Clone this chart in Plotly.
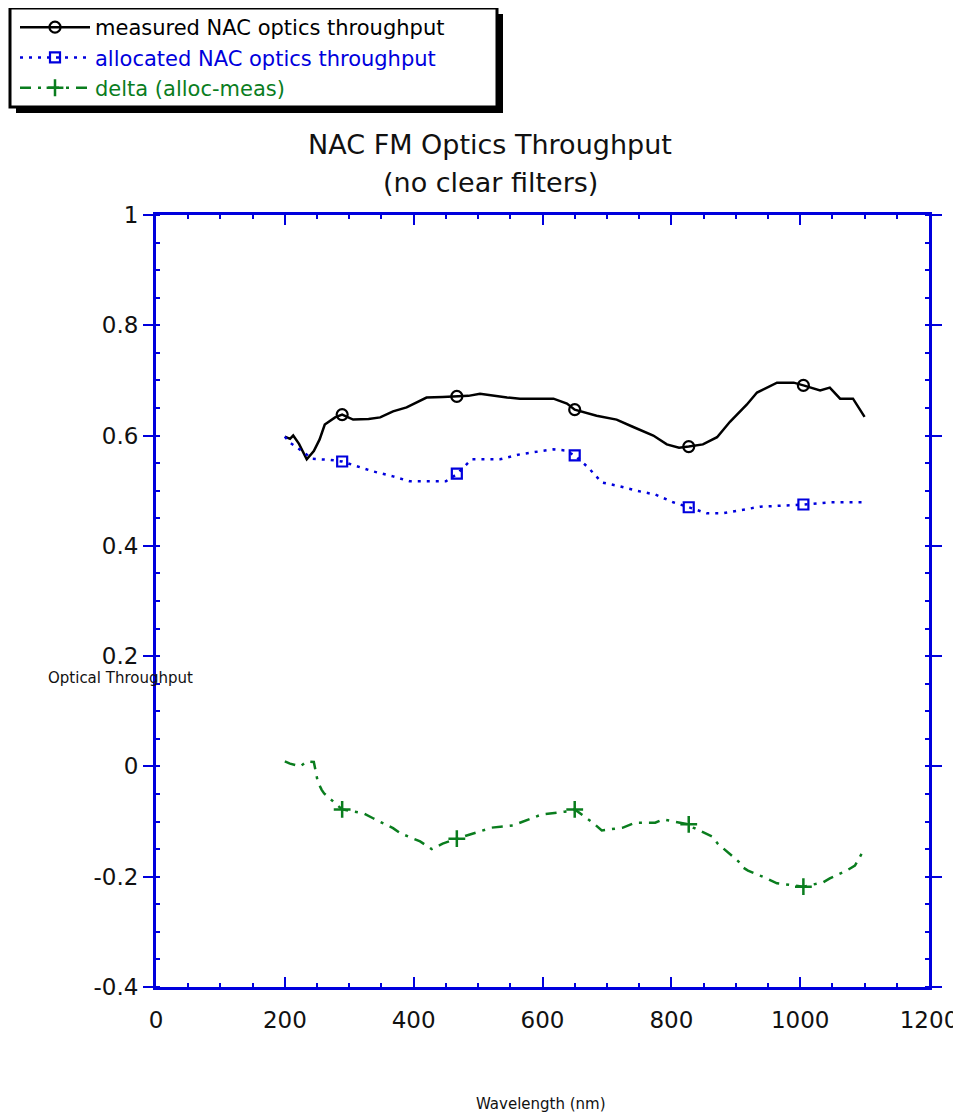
import plotly.graph_objects as go

# ---------------- data ----------------
meas_wl = [200, 208, 213, 222, 234, 245, 254, 262, 278, 289, 306, 330, 348, 368, 389,
           420, 445, 467, 485, 503, 525, 545, 565, 617, 638, 650, 684, 715, 740, 772,
           793, 812, 827, 849, 871, 891, 917, 933, 964, 990, 1005, 1031, 1046, 1062,
           1082, 1100]
meas_tp = [0.598, 0.594, 0.600, 0.585, 0.557, 0.572, 0.593, 0.620, 0.633, 0.638, 0.629,
           0.630, 0.633, 0.644, 0.651, 0.669, 0.670, 0.671, 0.672, 0.676, 0.672, 0.669,
           0.667, 0.667, 0.658, 0.647, 0.636, 0.629, 0.616, 0.600, 0.584, 0.578, 0.580,
           0.584, 0.597, 0.625, 0.656, 0.678, 0.696, 0.696, 0.691, 0.682, 0.687, 0.667,
           0.667, 0.634]

alloc_wl = [200, 208, 228, 242, 254, 270, 289, 312, 337, 368, 394, 430, 450, 467, 480,
            490, 534, 565, 593, 617, 635, 650, 671, 692, 720, 746, 775, 803, 827, 855,
            880, 907, 938, 973, 1005, 1046, 1100]
alloc_tp = [0.598, 0.587, 0.571, 0.558, 0.557, 0.556, 0.553, 0.544, 0.535, 0.526, 0.517,
            0.517, 0.517, 0.530, 0.545, 0.557, 0.557, 0.566, 0.571, 0.575, 0.573, 0.564,
            0.542, 0.515, 0.508, 0.500, 0.493, 0.479, 0.470, 0.459, 0.459, 0.464, 0.471,
            0.473, 0.475, 0.479, 0.479]

delta_wl = [200, 208, 224, 234, 245, 251, 257, 261, 289, 322, 337, 368, 379, 410, 428,
            445, 467, 508, 521, 554, 565, 599, 635, 650, 678, 692, 725, 744, 775, 787,
            826, 834, 863, 872, 879, 904, 911, 919, 948, 964, 1005, 1036, 1046, 1072,
            1085, 1100]
delta_tp = [0.009, 0.005, 0.000, 0.009, 0.008, -0.027, -0.042, -0.049, -0.078, -0.085,
            -0.094, -0.112, -0.121, -0.136, -0.150, -0.140, -0.131, -0.116, -0.111,
            -0.107, -0.102, -0.087, -0.082, -0.078, -0.102, -0.116, -0.111, -0.102,
            -0.102, -0.096, -0.105, -0.111, -0.127, -0.140, -0.147, -0.172, -0.183,
            -0.189, -0.203, -0.212, -0.218, -0.210, -0.203, -0.189, -0.180, -0.149]

marker_wl = [289, 467, 650, 827, 1005]
meas_marker_tp = [0.638, 0.671, 0.647, 0.580, 0.691]
alloc_marker_tp = [0.553, 0.531, 0.564, 0.470, 0.475]
delta_marker_tp = [-0.078, -0.131, -0.078, -0.105, -0.218]

series_names = ["measured NAC optics throughput",
                "allocated NAC optics throughput",
                "delta (alloc-meas)"]

x_ticks = [0, 200, 400, 600, 800, 1000, 1200]
y_ticks = [-0.4, -0.2, 0, 0.2, 0.4, 0.6, 0.8, 1]
y_tick_text = ["-0.4", "-0.2", "0", "0.2", "0.4", "0.6", "0.8", "1"]

# ---------------- styling ----------------
FONT = "DejaVu Sans"
BLACK = "#000000"
BLUE = "#0000dd"
GREEN = "#0a7d1e"
AXIS = "#0000dd"

OFF = 8                      # default page body margin
W, H = 961 - OFF, 1116 - OFF
L, R, T, B = 156 - OFF, 32, 215 - OFF, 129
PW, PH = W - L - R, H - T - B


def px_x(p):
    """page x pixel (as in reference) -> paper coordinate"""
    return (p - OFF - L) / PW


def px_y(p):
    """page y pixel (as in reference) -> paper coordinate"""
    return (H - B - (p - OFF)) / PH


fig = go.Figure()

styles = [
    dict(wl=meas_wl, tp=meas_tp, mtp=meas_marker_tp, color=BLACK,
         dash="solid", symbol="circle-open", msize=11, mlw=2.2),
    dict(wl=alloc_wl, tp=alloc_tp, mtp=alloc_marker_tp, color=BLUE,
         dash="3px,6px", symbol="square-open", msize=10, mlw=2.2),
    dict(wl=delta_wl, tp=delta_tp, mtp=delta_marker_tp, color=GREEN,
         dash="11px,7px,3px,7px", symbol="cross-thin-open", msize=12, mlw=2.5),
]

for name, s in zip(series_names, styles):
    # legend entry (line + marker sample)
    fig.add_trace(go.Scatter(
        x=[None], y=[None], mode="lines+markers",
        name=f"<span style='color:{s['color']}'>{name}</span>",
        line=dict(color=s["color"], width=2.5, dash=s["dash"]),
        marker=dict(symbol=s["symbol"], size=s["msize"], color=s["color"],
                    line=dict(width=s["mlw"], color=s["color"])),
        showlegend=True,
    ))
    # the curve
    fig.add_trace(go.Scatter(
        x=s["wl"], y=s["tp"], mode="lines",
        line=dict(color=s["color"], width=2.5, dash=s["dash"]),
        showlegend=False, hoverinfo="skip",
    ))
    # the markers
    fig.add_trace(go.Scatter(
        x=marker_wl, y=s["mtp"], mode="markers",
        marker=dict(symbol=s["symbol"], size=s["msize"], color=s["color"],
                    line=dict(width=s["mlw"], color=s["color"])),
        showlegend=False, hoverinfo="skip",
    ))

# legend frame with drop shadow
fig.add_shape(type="rect", xref="paper", yref="paper",
              x0=px_x(16), x1=px_x(503), y0=px_y(113), y1=px_y(14),
              fillcolor="black", line=dict(width=0), layer="above")
fig.add_shape(type="rect", xref="paper", yref="paper",
              x0=px_x(10), x1=px_x(497), y0=px_y(107), y1=px_y(8),
              fillcolor="white", line=dict(width=3, color="black"), layer="above")

fig.update_layout(
    width=W, height=H, autosize=False,
    margin=dict(l=L, r=R, t=T, b=B, pad=0, autoexpand=False),
    paper_bgcolor="white", plot_bgcolor="white",
    font=dict(family=FONT, size=22, color="#111111"),
    showlegend=True,
    legend=dict(
        x=px_x(15), y=px_y(7), xanchor="left", yanchor="top",
        xref="paper", yref="paper",
        bgcolor="rgba(0,0,0,0)", borderwidth=0,
        font=dict(family=FONT, size=21, color="black"),
        itemwidth=70, tracegroupgap=0, itemclick=False,
    ),
    xaxis=dict(
        range=[0, 1200], tickvals=x_ticks, ticktext=[str(v) for v in x_ticks],
        showline=True, linecolor=AXIS, linewidth=3, mirror="ticks",
        ticks="inside", ticklen=10, tickwidth=2, tickcolor=AXIS,
        minor=dict(dtick=50, ticks="inside", ticklen=4, tickwidth=2, tickcolor=AXIS),
        showgrid=False, zeroline=False, ticklabelstandoff=10, automargin=False,
        tickfont=dict(family=FONT, size=23, color="#111111"),
    ),
    yaxis=dict(
        range=[-0.4, 1], tickvals=y_ticks, ticktext=y_tick_text,
        showline=True, linecolor=AXIS, linewidth=3, mirror="ticks",
        ticks="outside", ticklen=10, tickwidth=2, tickcolor=AXIS,
        minor=dict(dtick=0.05, tick0=0, ticks="inside", ticklen=4, tickwidth=2,
                   tickcolor=AXIS),
        showgrid=False, zeroline=False, automargin=False,
        tickfont=dict(family=FONT, size=23, color="#111111"),
    ),
    annotations=[
        dict(text="NAC FM Optics Throughput", xref="paper", yref="paper",
             x=px_x(490), y=px_y(145), xanchor="center", yanchor="middle",
             showarrow=False, font=dict(family=FONT, size=27, color="#111111")),
        dict(text="(no clear filters)", xref="paper", yref="paper",
             x=px_x(490), y=px_y(182), xanchor="center", yanchor="middle",
             showarrow=False, font=dict(family=FONT, size=27, color="#111111")),
        dict(text="Optical Throughput", xref="paper", yref="paper",
             x=px_x(120), y=px_y(678), xanchor="center", yanchor="middle",
             showarrow=False, font=dict(family=FONT, size=15, color="#111111")),
        dict(text="Wavelength (nm)", xref="paper", yref="paper",
             x=px_x(541), y=px_y(1104), xanchor="center", yanchor="middle",
             showarrow=False, font=dict(family=FONT, size=15, color="#111111")),
    ],
)

fig.write_html("out.html")
